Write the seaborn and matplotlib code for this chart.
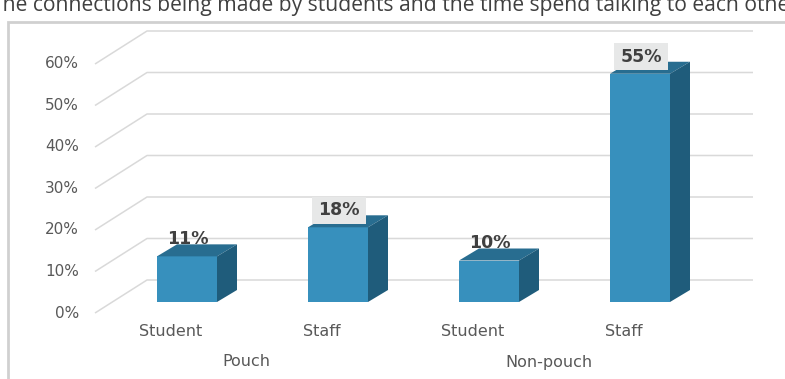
import numpy as np
import pandas as pd
import matplotlib
matplotlib.use("Agg")
import matplotlib.pyplot as plt
from matplotlib.patches import Polygon, Rectangle
import seaborn as sns

# ---- data ----
groups = ["Pouch", "Pouch", "Non-pouch", "Non-pouch"]
roles = ["Student", "Staff", "Student", "Staff"]
shares = [11, 18, 10, 55]          # percent
label_boxed = [False, True, False, True]
tick_values = [0, 10, 20, 30, 40, 50, 60]
title = "The connections being made by students and the time spend talking to each other"

sns.set_theme(style="white")
plt.rcParams["font.family"] = ["DejaVu Sans"]

W, H = 785, 379
fig = plt.figure(figsize=(W / 100, H / 100), dpi=100)
fig.patch.set_facecolor("white")

# axes spanning the figure; data units: 1 category step, 1 percent
X0, STEP = 187.0, 151.0      # pixel x of first bar centre, pixels per category
Y0, PPCT = 302.0, 4.15       # pixel y (from top) of the bar floor, pixels per percent
ax = fig.add_axes([0, 0, 1, 1])

def dx(px):
    return px / STEP

def dy(px):
    return px / PPCT

df = pd.DataFrame({"key": [f"{g} {r}" for g, r in zip(groups, roles)],
                   "share": shares})

FRONT, TOP, SIDE = "#3790bd", "#286d90", "#1f5c7b"
GRID = "#d9d9d9"
TXT = "#595959"

sns.barplot(data=df, x="key", y="share", order=list(df["key"]), width=60 / STEP,
            color=FRONT, saturation=1, ax=ax, zorder=3, linewidth=0)

ax.set_xlim(-X0 / STEP, (W - X0) / STEP)
ax.set_ylim(-(H - Y0) / PPCT, Y0 / PPCT)
ax.axis("off")

# depth of the floor: label plane is in front of bars, back wall behind
front_off = (dx(-17.3), dy(-11))
back_off = (dx(34.7), dy(22))
x_left_front = dx(95 - X0)
x_right_back = dx(753 - X0)

for v in tick_values:
    yf = v + front_off[1]
    yb = v + back_off[1]
    xf = x_left_front
    xb = x_left_front + (back_off[0] - front_off[0])
    ax.plot([xf, xb, x_right_back], [yf, yb, yb], color=GRID, lw=1.1, zorder=1,
            solid_capstyle="butt")
    ax.text(dx(79 - X0), yf, f"{v}%", ha="right", va="center",
            fontsize=11, color=TXT, zorder=2)

# 3D faces for each bar
ddx, ddy = dx(20), dy(12)
for p in ax.patches[:len(shares)]:
    x, w, h = p.get_x(), p.get_width(), p.get_height()
    top = Polygon([(x, h), (x + w, h), (x + w + ddx, h + ddy), (x + ddx, h + ddy)],
                  closed=True, facecolor=TOP, edgecolor="none", zorder=3)
    side = Polygon([(x + w, 0), (x + w + ddx, ddy), (x + w + ddx, h + ddy), (x + w, h)],
                   closed=True, facecolor=SIDE, edgecolor="none", zorder=3)
    ax.add_patch(top)
    ax.add_patch(side)

# value labels
for i, (v, boxed) in enumerate(zip(shares, label_boxed)):
    cx = i + dx(1)
    cy = v + dy(17)
    if boxed:
        ax.add_patch(Rectangle((cx - dx(27), cy - dy(13.5)), dx(54), dy(27),
                               facecolor="#e7e8e8", edgecolor="none", zorder=4))
    ax.text(cx, cy, f"{v}%", ha="center", va="center", fontsize=12.5,
            fontweight="bold", color="#404040", zorder=5)

# category labels on the front edge
for i, r in enumerate(roles):
    ax.text(i + dx(-16), dy(-30), r, ha="center", va="center",
            fontsize=11.5, color=TXT)
for g in dict.fromkeys(groups):
    idx = [i for i, gg in enumerate(groups) if gg == g]
    ax.text(np.mean(idx) + dx(-16), dy(-60), g, ha="center", va="center",
            fontsize=11.5, color=TXT)

# chart frame and heading
fig.patches.append(Rectangle((8 / W, -0.1), 1.1, 1 - 22 / H + 0.1,
                             transform=fig.transFigure, facecolor="none",
                             edgecolor="#d0d0d0", lw=2, zorder=0))
fig.text(-9 / W, 1 - 11 / H, title, ha="left", va="baseline",
         fontsize=15.2, family=["Open Sans", "DejaVu Sans"], color="#404040")

fig.savefig("out.png", dpi=100)
